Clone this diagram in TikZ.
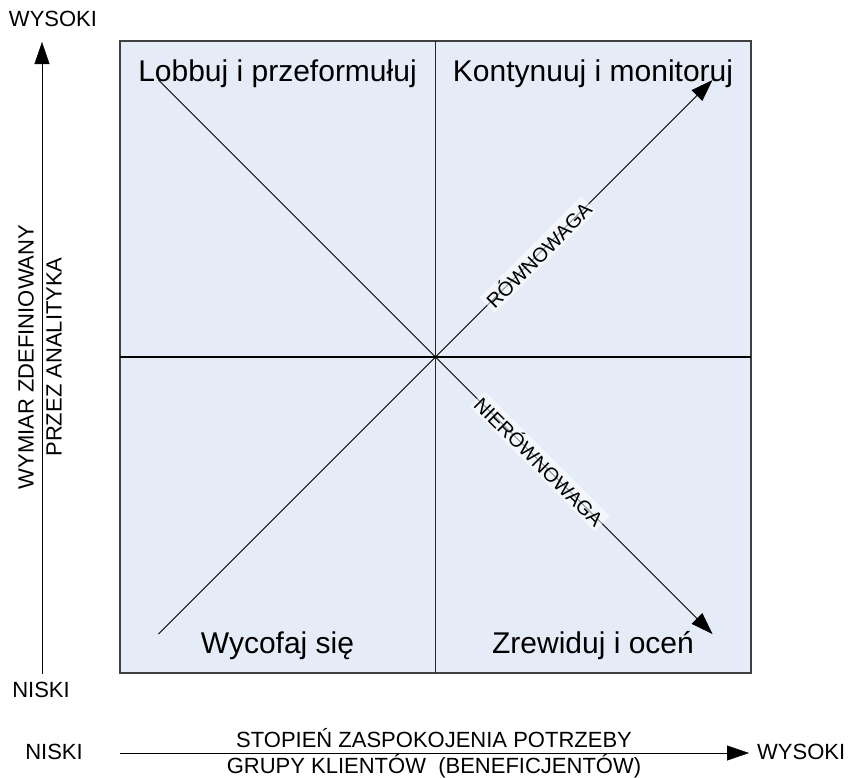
\documentclass[tikz,border=0pt]{standalone}
\usepackage{fontspec}
\setmainfont{Liberation Sans}
\usetikzlibrary{arrows.meta}
\definecolor{quadfill}{RGB}{230,236,247}

\begin{document}
\begin{tikzpicture}[x=1pt,y=-1pt,
    axislbl/.style={font=\fontsize{22}{26}\selectfont,inner sep=0pt},
    quadlbl/.style={font=\fontsize{30}{35}\selectfont,anchor=base,inner sep=0pt},
    diaglbl/.style={font=\fontsize{20}{23}\selectfont,sloped,fill=white,fill opacity=0.55,text opacity=1,inner sep=2pt},
    bigtip/.style={-{Triangle[length=22pt,width=15pt]}}]
  \useasboundingbox (0,0) rectangle (850,777);
  \draw[draw=black!75,fill=quadfill,line width=1.5pt] (120,41) rectangle (751,673);
  \draw[black!85,line width=1.2pt] (435.5,41) -- (435.5,673);
  \draw[line width=1.1pt] (120,357) -- (751,357);
  \node[quadlbl] (q1) at (277.5,81) {Lobbuj i przeformułuj};
  \node[quadlbl] (q2) at (593,81) {Kontynuuj i monitoruj};
  \node[quadlbl] (q3) at (277.5,653) {Wycofaj się};
  \node[quadlbl] (q4) at (593,653) {Zrewiduj i oceń};
  \coordinate (ul) at (158.5,80);
  \coordinate (ur) at (712.5,80);
  \coordinate (ll) at (158.5,634);
  \coordinate (lr) at (712.5,634);
  \draw[bigtip,line width=0.8pt] (ll) -- (ur) node[diaglbl,pos=0.685] {RÓWNOWAGA};
  \draw[bigtip,line width=0.8pt] (ul) -- (lr) node[diaglbl,pos=0.688] {NIERÓWNOWAGA};
  \coordinate (y0) at (42,674);
  \coordinate (y1) at (42,42);
  \draw[bigtip] (y0) -- (y1);
  \node[axislbl] (ytop) at (53,19) {WYSOKI};
  \node[axislbl] (ybot) at (41,690) {NISKI};
  \node[axislbl,rotate=90,align=center,font=\fontsize{22}{28}\selectfont] (ylbl) at (40,357) {WYMIAR ZDEFINIOWANY\\PRZEZ ANALITYKA};
  \coordinate (x0) at (120,753);
  \coordinate (x1) at (749,753);
  \draw[bigtip] (x0) -- (x1);
  \node[axislbl,anchor=base] (xtxt1) at (434,747) {STOPIEŃ ZASPOKOJENIA POTRZEBY};
  \node[axislbl,anchor=base] (xtxt2) at (434,773) {GRUPY KLIENTÓW\ \ (BENEFICJENTÓW)};
  \node[axislbl] (xlo) at (54,752) {NISKI};
  \node[axislbl,anchor=west] (xhi) at (757,752) {WYSOKI};
\end{tikzpicture}
\end{document}
